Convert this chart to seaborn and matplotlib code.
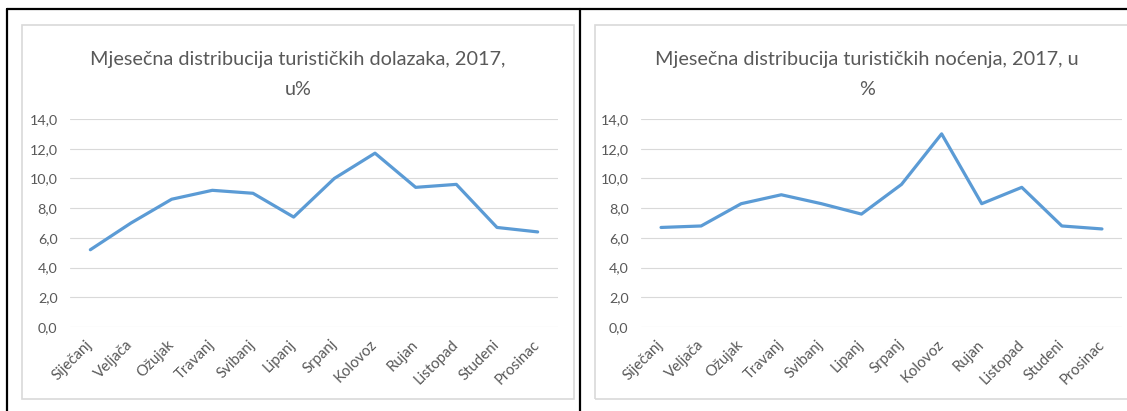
import numpy as np
import pandas as pd
import matplotlib.pyplot as plt
import seaborn as sns
from matplotlib.ticker import FuncFormatter
from matplotlib.lines import Line2D
from matplotlib.patches import Rectangle

# Podaci - mjesečna distribucija, 2017, u %
mjeseci = ['Siječanj', 'Veljača', 'Ožujak', 'Travanj', 'Svibanj', 'Lipanj',
           'Srpanj', 'Kolovoz', 'Rujan', 'Listopad', 'Studeni', 'Prosinac']
dolasci = [5.2, 7.0, 8.6, 9.2, 9.0, 7.4, 10.0, 11.7, 9.4, 9.6, 6.7, 6.4]
nocenja = [6.7, 6.8, 8.3, 8.9, 8.3, 7.6, 9.6, 13.0, 8.3, 9.4, 6.8, 6.6]

naslov_lijevo = ['Mjesečna distribucija turističkih dolazaka, 2017,', 'u%']
naslov_desno = ['Mjesečna distribucija turističkih noćenja, 2017, u', '%']

sns.set_theme(style='white')
plt.rcParams['font.family'] = ['Lato', 'DejaVu Sans']

W, H = 1127, 411
fig = plt.figure(figsize=(W / 100, H / 100), dpi=100)
fig.patch.set_facecolor('white')

siva = '#595959'
plava = '#5b9bd5'


def px_axes(x0, y0, x1, y1):
    # pretvori piksele (od gornjeg lijevog kuta) u koordinate figure
    return fig.add_axes([x0 / W, 1 - y1 / H, (x1 - x0) / W, (y1 - y0) / H])


def crtaj(ax, vrijednosti, naslov, tx):
    df = pd.DataFrame({'mjesec': mjeseci, 'udio': vrijednosti})
    sns.lineplot(data=df, x='mjesec', y='udio', ax=ax, color=plava,
                 linewidth=2.3, sort=False)
    ax.set_xlim(-0.5, len(mjeseci) - 0.5)
    ax.set_ylim(0, 14)
    ax.set_yticks(np.arange(0, 15, 2))
    ax.yaxis.set_major_formatter(FuncFormatter(lambda v, p: f'{v:.1f}'.replace('.', ',')))
    ax.grid(axis='y', color='#d9d9d9', linewidth=0.8)
    ax.grid(axis='x', visible=False)
    for s in ax.spines.values():
        s.set_visible(False)
    ax.set_xlabel('')
    ax.set_ylabel('')
    ax.tick_params(axis='y', length=0, pad=9, labelsize=10.3, labelcolor=siva)
    ax.tick_params(axis='x', length=0, pad=11, labelsize=10.8, labelcolor=siva)
    for lab in ax.get_xticklabels():
        lab.set_rotation(45)
        lab.set_ha('right')
        lab.set_va('center')
        lab.set_rotation_mode('anchor')
    # naslov u dva reda, centriran u okviru grafikona
    for red, y in zip(naslov, [65, 95]):
        fig.text(tx / W, 1 - y / H, red, ha='center', va='baseline',
                 fontsize=14.3, color=siva)


ax1 = px_axes(70, 119, 558, 327)
crtaj(ax1, dolasci, naslov_lijevo, 298)

ax2 = px_axes(641, 119, 1122, 327)
crtaj(ax2, nocenja, naslov_desno, 867)

# svijetlo sivi okviri grafikona
for x0, x1 in [(22, 574), (595, 1140)]:
    fig.patches.append(Rectangle((x0 / W, 1 - 399 / H), (x1 - x0) / W, (399 - 25) / H,
                                 transform=fig.transFigure, fill=False,
                                 edgecolor='#d9d9d9', linewidth=1.2))

# crni okvir tablice
for xs, ys in [([7, W], [9, 9]), ([7, 7], [9, H]), ([580, 580], [9, H])]:
    fig.lines.append(Line2D([x / W for x in xs], [1 - y / H for y in ys],
                            transform=fig.transFigure, color='black', linewidth=1.6))

fig.savefig('out.png', dpi=100, facecolor='white')
